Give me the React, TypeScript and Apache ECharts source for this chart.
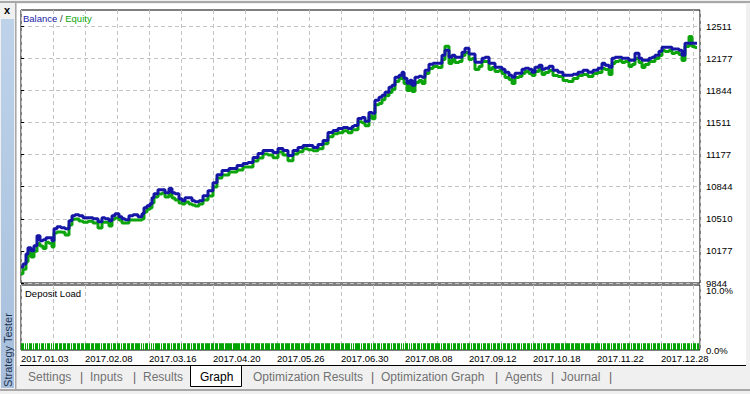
import React, { useEffect, useRef } from 'react';
import * as echarts from 'echarts';

// Deal index (x) and balance after the deal (y)
const deals = [
  0, 2, 3, 4, 6, 7, 9, 10, 12, 13,
  15, 16, 17, 19, 21, 23, 25, 26, 28, 30,
  32, 35, 37, 40, 41, 43, 45, 46, 48, 50,
  51, 53, 55, 57, 60, 61, 62, 64, 65, 66,
  67, 70, 71, 73, 75, 76, 78, 80, 81, 83,
  85, 86, 88, 90, 92, 95, 97, 99, 102, 106,
  110, 112, 115, 117, 120, 122, 125, 127, 130, 132,
  135, 137, 140, 142, 145, 147, 150, 152, 155, 157,
  160, 162, 165, 166, 167, 170, 171, 173, 175, 176,
  178, 180, 181, 183, 185, 186, 188, 190, 191, 192,
  194, 195, 196, 198, 200, 201, 203, 205, 207, 210,
  211, 213, 215, 216, 218, 220, 221, 223, 225, 226,
  228, 230, 231, 233, 235, 236, 238, 240, 241, 243,
  245, 246, 248, 250, 251, 253, 255, 256, 258, 260,
  261, 263, 265, 267, 270, 272, 275, 277, 280, 282,
  285, 287, 290, 291, 293, 295, 296, 298, 300, 301,
  303, 305, 306, 308, 310, 311, 313, 315, 316, 318,
  320, 321, 323, 325, 326, 328, 330, 331, 333, 335,
  336, 338,
];

const balance = [
  10011, 10042, 10146, 10209, 10178, 10230, 10334, 10282, 10292, 10313,
  10313, 10282, 10407, 10428, 10417, 10407, 10490, 10542, 10553, 10542,
  10521, 10521, 10511, 10480, 10521, 10511, 10490, 10542, 10563, 10532,
  10511, 10501, 10542, 10553, 10532, 10563, 10626, 10646, 10667, 10730,
  10771, 10813, 10813, 10782, 10824, 10782, 10771, 10719, 10699, 10730,
  10730, 10699, 10688, 10699, 10751, 10803, 10886, 10969, 11011, 11032,
  11063, 11084, 11094, 11146, 11188, 11219, 11219, 11199, 11240, 11219,
  11167, 11219, 11251, 11272, 11272, 11251, 11282, 11324, 11407, 11428,
  11449, 11459, 11449, 11469, 11480, 11553, 11563, 11522, 11615, 11605,
  11740, 11772, 11792, 11824, 11876, 11897, 11980, 12001, 12032, 11970,
  11917, 11949, 11897, 11980, 11990, 11980, 12053, 12115, 12126, 12126,
  12209, 12261, 12188, 12209, 12188, 12188, 12240, 12282, 12220, 12220,
  12136, 12136, 12178, 12188, 12126, 12126, 12084, 12084, 12063, 12032,
  12001, 11980, 12022, 12022, 12063, 12074, 12063, 12032, 12084, 12105,
  12063, 12074, 12095, 12053, 12032, 12001, 12001, 12011, 12032, 12053,
  12032, 12053, 12074, 12126, 12105, 12084, 12178, 12188, 12188, 12178,
  12178, 12157, 12157, 12230, 12178, 12157, 12157, 12178, 12188, 12209,
  12251, 12292, 12292, 12292, 12272, 12272, 12261, 12209, 12334, 12334,
  12334, 12334,
];

// Floating loss at each deal: how far the green equity line sits below the balance
const equityGap = [
  70, 55, 80, 45, 65, 55, 80, 55, 90, 45,
  55, 65, 45, 55, 45, 65, 45, 35, 45, 55,
  45, 35, 45, 65, 45, 35, 55, 35, 45, 35,
  45, 35, 45, 55, 35, 55, 45, 35, 45, 55,
  35, 45, 35, 45, 35, 55, 65, 45, 35, 45,
  65, 45, 45, 35, 45, 55, 45, 35, 45, 35,
  45, 35, 45, 35, 45, 35, 45, 55, 35, 45,
  55, 35, 45, 35, 45, 35, 45, 35, 45, 35,
  45, 35, 45, 35, 45, 35, 55, 45, 35, 55,
  45, 65, 45, 35, 55, 45, 45, 35, 45, 55,
  75, 45, 65, 55, 45, 65, 35, 45, 35, 45,
  45, -40, 65, 45, 55, 45, 35, 45, 55, 45,
  75, 45, 35, 45, 65, 45, 45, 35, 45, 55,
  45, 65, 45, 35, 45, 35, 45, 35, 45, 35,
  55, 45, 45, 55, 45, 55, 65, 45, 35, 45,
  45, 35, 45, 55, 45, 75, 55, 45, 35, 45,
  35, 65, 45, 55, 45, 75, 45, 35, 45, 35,
  45, 35, 45, 35, 45, 35, 45, 55, 35, -70,
  35, 45,
];

// Deposit load (%) per deal
const depositLoad = [
  1.15, 1.15, 1.15, 1.15, 1.15, 1.15, 1.15, 1.15, 1.15, 1.15,
  1.15, 1.15, 1.15, 1.15, 1.15, 1.15, 1.15, 1.15, 1.15, 1.15,
  1.15, 1.15, 1.15, 1.15, 1.15, 1.15, 1.15, 1.15, 1.15, 1.15,
  1.15, 1.15, 1.15, 1.15, 1.15, 1.15, 1.15, 1.15, 1.15, 1.15,
  1.15, 1.15, 1.15, 1.15, 1.15, 1.15, 1.15, 1.15, 1.15, 1.15,
  1.15, 1.15, 1.15, 1.15, 1.15, 1.15, 1.15, 1.15, 1.15, 1.15,
  1.15, 1.15, 1.15, 1.15, 1.15, 1.15, 1.15, 1.15, 1.15, 1.15,
  1.15, 1.15, 1.15, 1.15, 1.15, 1.15, 1.15, 1.15, 1.15, 1.15,
  1.15, 1.15, 1.15, 1.15, 1.15, 1.15, 1.15, 1.15, 1.15, 1.15,
  1.15, 1.15, 1.15, 1.15, 1.15, 1.15, 1.15, 1.15, 1.15, 1.15,
  1.15, 1.15, 1.15, 1.15, 1.15, 1.15, 1.15, 1.15, 1.15, 1.15,
  1.15, 1.15, 1.15, 1.15, 1.15, 1.15, 1.15, 1.15, 1.15, 1.15,
  1.15, 1.15, 1.15, 1.15, 1.15, 1.15, 1.15, 1.15, 1.15, 1.15,
  1.15, 1.15, 1.15, 1.15, 1.15, 1.15, 1.15, 1.15, 1.15, 1.15,
  1.15, 1.15, 1.15, 1.15, 1.15, 1.15, 1.15, 1.15, 1.15, 1.15,
  1.15, 1.15, 1.15, 1.15, 1.15, 1.15, 1.15, 1.15, 1.15, 1.15,
  1.15, 1.15, 1.15, 1.15, 1.15, 1.15, 1.15, 1.15, 1.15, 1.15,
  1.15, 1.15, 1.15, 1.15, 1.15, 1.15, 1.15, 1.15, 1.15, 1.15,
  1.15, 1.15,
];

const xMax = 339.5;
const xGridStep = 16;
const xLabelStep = 32;
const xLabels = [
  '2017.01.03', '2017.02.08', '2017.03.16', '2017.04.20', '2017.05.26', '2017.06.30',
  '2017.08.08', '2017.09.12', '2017.10.18', '2017.11.22', '2017.12.28',
];

const yMin = 9844.2;
const yMax = 12678;
const yTickValues = [9844.2, 10177.6, 10510.9, 10844.3, 11177.7, 11511.1, 11844.4, 12177.8, 12511.2];
const yTickLabels = ['9844', '10177', '10510', '10844', '11177', '11511', '11844', '12177', '12511'];

const loadMax = 11;
const loadTickStep = 10;

const tabs = [
  { text: 'Settings', x: 28 },
  { text: '|', x: 80 },
  { text: 'Inputs', x: 90 },
  { text: '|', x: 133 },
  { text: 'Results', x: 143 },
  { text: 'Graph', x: 200, active: true },
  { text: 'Optimization Results', x: 253 },
  { text: '|', x: 371 },
  { text: 'Optimization Graph', x: 381 },
  { text: '|', x: 495 },
  { text: 'Agents', x: 505 },
  { text: '|', x: 551 },
  { text: 'Journal', x: 561 },
  { text: '|', x: 609 },
];

const FONT = '"Liberation Sans", Arial, sans-serif';
const BLUE = '#1616a6';
const GREEN = '#0ca40c';
const LOAD_GREEN = '#00a400';
const GRIDLINE = '#c4c4c4';

export default function App() {
  const ref = useRef<HTMLDivElement>(null);

  useEffect(() => {
    const chart = echarts.init(ref.current as HTMLDivElement, null, { renderer: 'svg' });
    const n = Math.min(deals.length, balance.length, equityGap.length, depositLoad.length);
    const balData: number[][] = [];
    const eqData: number[][] = [];
    const loadData: number[][] = [];
    for (let i = 0; i < n; i++) {
      balData.push([deals[i], balance[i]]);
      eqData.push([deals[i], balance[i] - equityGap[i]]);
      const next = i + 1 < n ? deals[i + 1] : xMax;
      loadData.push([deals[i], next, depositLoad[i]]);
    }

    const dashed = { show: true, lineStyle: { color: GRIDLINE, type: [4, 3] as any, width: 1 } };

    const graphic: any[] = [
      { type: 'rect', z: -20, silent: true, shape: { x: 17, y: 4, width: 729, height: 362 }, style: { fill: '#ffffff' } },
      { type: 'rect', z: -5, silent: true, shape: { x: 0, y: 1, width: 750, height: 2 }, style: { fill: '#a8a8a8' } },
      {
        type: 'rect', z: -5, silent: true, shape: { x: 1, y: 19, width: 13, height: 369 },
        style: {
          fill: new echarts.graphic.LinearGradient(0, 0, 0, 1, [
            { offset: 0, color: '#bed3ea' },
            { offset: 1, color: '#a7bfdc' },
          ]),
        },
      },
      { type: 'rect', z: -5, silent: true, shape: { x: 15, y: 3, width: 1.5, height: 387 }, style: { fill: '#a8a8a8' } },
      { type: 'text', z: 10, x: 7, y: 10, style: { text: 'x', fontFamily: FONT, fontSize: 11, fontWeight: 'bold', fill: '#000', align: 'center', verticalAlign: 'middle' } },
      {
        type: 'text', z: 10, x: 8, y: 350, rotation: Math.PI / 2,
        style: { text: 'Strategy Tester', fontFamily: FONT, fontSize: 11, fill: '#22334f', align: 'center', verticalAlign: 'middle' },
      },
      { type: 'line', z: 5, silent: true, shape: { x1: 20, y1: 365.5, x2: 746, y2: 365.5 }, style: { stroke: '#000', lineWidth: 1 } },
      { type: 'rect', z: 4, silent: true, shape: { x: 190.5, y: 365.5, width: 51, height: 21 }, style: { fill: '#ffffff', stroke: '#000', lineWidth: 1 } },
      { type: 'rect', z: -5, silent: true, shape: { x: 0, y: 389, width: 750, height: 2 }, style: { fill: '#a8a8a8' } },
      { type: 'text', z: 10, x: 25, y: 293, style: { text: 'Deposit Load', fontFamily: FONT, fontSize: 9.5, fill: '#000', verticalAlign: 'middle' } },
    ];
    tabs.forEach((t) => {
      graphic.push({
        type: 'text', z: 10, x: t.x, y: 377,
        style: {
          text: t.text, fontFamily: FONT, fontSize: 12,
          fill: t.active ? '#000' : (t.text === '|' ? '#606060' : '#727272'),
          verticalAlign: 'middle',
        },
      });
    });

    chart.setOption({
      animation: false,
      backgroundColor: 'transparent',
      textStyle: { fontFamily: FONT },
      title: {
        text: '{b|Balance} {s|/} {e|Equity}',
        left: 23,
        top: 13,
        padding: 0,
        textStyle: {
          fontSize: 9.5,
          fontWeight: 'normal',
          rich: {
            b: { color: '#1c1ca8', fontSize: 9.5, fontFamily: FONT },
            s: { color: '#333', fontSize: 9.5, fontFamily: FONT },
            e: { color: '#10a810', fontSize: 9.5, fontFamily: FONT },
          },
        },
      },
      graphic,
      grid: [
        { left: 21, top: 10, width: 679, height: 273, show: true, borderColor: '#000', borderWidth: 1, backgroundColor: 'transparent' },
        { left: 21, top: 285, width: 679, height: 65, show: true, borderColor: '#000', borderWidth: 1, backgroundColor: 'transparent' },
      ],
      xAxis: [
        {
          type: 'value', gridIndex: 0, min: 0, max: xMax, interval: xGridStep,
          axisLine: { show: false }, axisTick: { show: false }, axisLabel: { show: false },
          splitLine: dashed,
        },
        {
          type: 'value', gridIndex: 1, min: 0, max: xMax, interval: xGridStep,
          axisLine: { show: false }, axisTick: { show: false },
          axisLabel: {
            show: true, align: 'left', margin: 3, fontSize: 9.5, color: '#000', fontFamily: FONT,
            showMinLabel: true, showMaxLabel: true,
            formatter: (v: number) => (v % xLabelStep === 0 && xLabels[v / xLabelStep]) ? xLabels[v / xLabelStep] : '',
          },
          splitLine: dashed,
        },
      ],
      yAxis: [
        {
          type: 'value', gridIndex: 0, position: 'right', min: yMin, max: yMax,
          axisLine: { show: false },
          axisTick: { show: true, length: 3, inside: false, customValues: yTickValues, lineStyle: { color: '#000' } },
          axisLabel: {
            show: true, margin: 6, fontSize: 9.5, color: '#000', fontFamily: FONT,
            customValues: yTickValues,
            formatter: (v: number) => {
              let best = 0;
              for (let i = 1; i < yTickValues.length; i++) {
                if (Math.abs(yTickValues[i] - v) < Math.abs(yTickValues[best] - v)) best = i;
              }
              return yTickLabels[best];
            },
          },
          splitLine: dashed,
        },
        {
          type: 'value', gridIndex: 1, position: 'right', min: 0, max: loadMax, interval: loadTickStep,
          axisLine: { show: false }, axisTick: { show: false },
          axisLabel: {
            show: true, margin: 6, fontSize: 9.5, color: '#000', fontFamily: FONT,
            showMaxLabel: false,
            formatter: (v: number) => (v === 0 || v === loadTickStep ? v.toFixed(1) + '%' : ''),
          },
          splitLine: { show: false },
        },
      ],
      series: [
        {
          name: 'Equity', type: 'line', xAxisIndex: 0, yAxisIndex: 0, data: eqData,
          step: 'middle', showSymbol: false, silent: true,
          lineStyle: { color: GREEN, width: 3 },
        },
        {
          name: 'Balance', type: 'line', xAxisIndex: 0, yAxisIndex: 0, data: balData,
          step: 'middle', showSymbol: false, silent: true,
          lineStyle: { color: BLUE, width: 3 },
        },
        {
          name: 'Deposit Load', type: 'custom', xAxisIndex: 1, yAxisIndex: 1, data: loadData,
          silent: true,
          encode: { x: [0, 1], y: 2 },
          renderItem: (params: any, api: any) => {
            const s = api.coord([api.value(0), api.value(2)]);
            const e = api.coord([api.value(1), 0]);
            return {
              type: 'rect',
              shape: { x: s[0], y: s[1], width: Math.max(1, e[0] - s[0] - 1), height: e[1] - s[1] },
              style: { fill: LOAD_GREEN },
            };
          },
        },
      ],
    });

    return () => chart.dispose();
  }, []);

  return (
    <div
      ref={ref}
      style={{ position: 'fixed', left: 0, top: 0, width: 750, height: 394, background: '#f0f0f0' }}
    />
  );
}
